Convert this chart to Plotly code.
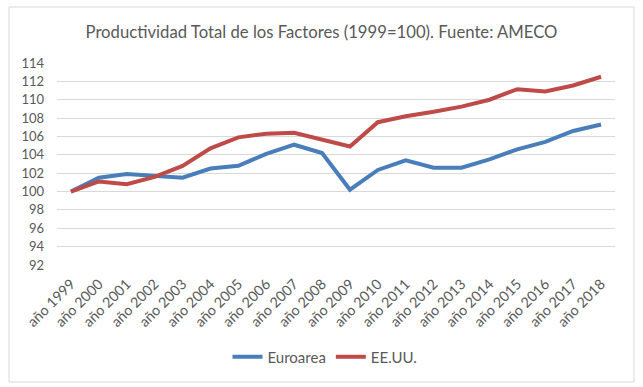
import plotly.graph_objects as go

years = ["año %d" % y for y in range(1999, 2019)]
euroarea = [100.0, 101.5, 101.9, 101.7, 101.5, 102.5, 102.8, 104.1, 105.1, 104.2,
            100.2, 102.35, 103.4, 102.6, 102.6, 103.5, 104.6, 105.4, 106.6, 107.3]
eeuu = [100.0, 101.1, 100.8, 101.6, 102.8, 104.7, 105.9, 106.3, 106.4, 105.6,
        104.9, 107.55, 108.2, 108.7, 109.25, 110.0, 111.15, 110.9, 111.55, 112.5]
y_ticks = list(range(92, 115, 2))

FONT = "Lato"
GRAY = "#595959"

fig = go.Figure()
fig.add_trace(go.Scatter(x=years, y=euroarea, name="Euroarea", mode="lines",
                         line=dict(color="#4A7EBB", width=4)))
fig.add_trace(go.Scatter(x=years, y=eeuu, name="EE.UU.", mode="lines",
                         line=dict(color="#BE4B48", width=4)))

fig.update_layout(
    width=643, height=387,
    margin=dict(l=57, r=28, t=63, b=122),
    paper_bgcolor="white", plot_bgcolor="white",
    font=dict(family=FONT, color=GRAY, size=12),
    title=dict(text="Productividad Total de los Factores (1999=100). Fuente: AMECO",
               x=0.5, xanchor="center", y=1 - 32 / 387, yanchor="middle",
               font=dict(size=16.7, color=GRAY, family=FONT)),
    showlegend=True,
    legend=dict(orientation="h", x=(325 - 57) / 558, xanchor="center",
                y=(265 - 357) / 202, yanchor="middle",
                font=dict(size=15, color=GRAY, family=FONT), itemwidth=30),
    xaxis=dict(type="category", range=[-0.5, 19.5], tickangle=-45, automargin=False,
               showgrid=False, showline=False, ticks="", zeroline=False,
               ticklabelstandoff=7,
               tickfont=dict(size=14.3, color=GRAY, family=FONT)),
    yaxis=dict(range=[92, 114], tickvals=y_ticks, showgrid=True, gridcolor="#D9D9D9",
               gridwidth=1, zeroline=False, showline=False, ticks="", automargin=False,
               ticklabelstandoff=12,
               tickfont=dict(size=13, color=GRAY, family=FONT)),
    shapes=[dict(type="rect", xref="paper", yref="paper",
                 x0=(9 - 57) / 558, x1=(634 - 57) / 558,
                 y0=(265 - 382) / 202, y1=(265 - 7) / 202,
                 line=dict(color="#D9D9D9", width=1), fillcolor="rgba(0,0,0,0)",
                 layer="below")],
)

fig.write_html("out.html", config={"displayModeBar": False},
               post_script="document.body.style.margin='0';document.body.style.overflow='hidden';")
